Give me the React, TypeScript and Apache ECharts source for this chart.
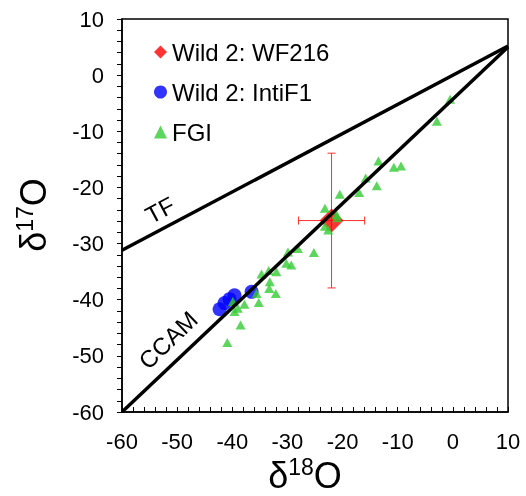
import React, { useEffect, useRef } from "react";
import * as echarts from "echarts";

const xTicks = { min: -60, max: 10, interval: 10 };
const yTicks = { min: -60, max: 10, interval: 10 };

// Wild 2: WF216 (x, y, xErr, yErr)
const wf216 = [[-22, -25.9]];
const wf216Err = [[-22, -25.9, 6, 12]];

// Wild 2: IntiF1
const intiF1 = [
  [-42.3, -41.7],
  [-41.4, -40.6],
  [-40.5, -39.9],
  [-39.6, -39.2],
  [-36.5, -38.6],
];

// FGI
const fgi = [
  [-0.5, -4.3],
  [-2.9, -8.2],
  [-9.4, -16.2],
  [-10.7, -16.4],
  [-13.5, -15.3],
  [-13.8, -19.7],
  [-15.8, -18.3],
  [-17.0, -20.9],
  [-20.5, -21.2],
  [-23.2, -23.7],
  [-21.1, -24.8],
  [-21.0, -25.4],
  [-23.2, -26.9],
  [-22.6, -27.6],
  [-25.2, -31.6],
  [-28.1, -30.9],
  [-29.9, -31.5],
  [-30.2, -33.5],
  [-29.3, -33.8],
  [-32.0, -35.0],
  [-33.4, -34.8],
  [-34.7, -35.4],
  [-33.2, -36.8],
  [-33.3, -38.0],
  [-32.1, -38.9],
  [-35.6, -38.9],
  [-35.2, -40.5],
  [-37.8, -40.8],
  [-39.0, -41.5],
  [-39.9, -40.3],
  [-39.6, -42.1],
  [-38.5, -44.5],
  [-40.9, -47.6],
];

// Reference lines
const tfLine = [[-60, -31.2], [10, 5.2]];
const ccamLine = [[-60, -60], [10, 5]];

const legendNames = ["Wild 2: WF216", "Wild 2: IntiF1", "FGI"];
const FONT = "'Liberation Sans', Arial, sans-serif";

export default function App() {
  const ref = useRef<HTMLDivElement>(null);
  useEffect(() => {
    if (!ref.current) return;
    const chart = echarts.init(ref.current, undefined, { renderer: "svg" });
    const axisCommon = {
      type: "value",
      splitLine: { show: false },
      axisLine: { show: true, onZero: false, lineStyle: { color: "#000", width: 1.5 } },
      axisLabel: { color: "#000", fontSize: 22, fontFamily: FONT },
      minorTick: { show: true, splitNumber: 5, length: 5, lineStyle: { color: "#000", width: 1 } },
      axisTick: { show: true, length: 5, lineStyle: { color: "#000", width: 1 } },
    };
    chart.setOption({
      animation: false,
      textStyle: { fontFamily: FONT },
      grid: {
        left: 122,
        right: 18,
        top: 19,
        bottom: 84,
        show: true,
        borderColor: "#000",
        borderWidth: 1.5,
        backgroundColor: "transparent",
      },
      xAxis: {
        ...axisCommon,
        min: xTicks.min,
        max: xTicks.max,
        interval: xTicks.interval,
        axisTick: { ...axisCommon.axisTick, inside: true },
        minorTick: { ...axisCommon.minorTick },
        axisLabel: { ...axisCommon.axisLabel, margin: 18 },
      },
      yAxis: {
        ...axisCommon,
        min: yTicks.min,
        max: yTicks.max,
        interval: yTicks.interval,
        axisTick: { ...axisCommon.axisTick, inside: false },
        axisLabel: { ...axisCommon.axisLabel, margin: 18 },
      },
      legend: {
        orient: "vertical",
        left: 149,
        top: 34,
        itemWidth: 13,
        itemHeight: 13,
        itemGap: 14,
        textStyle: { fontSize: 24, color: "#000", lineHeight: 26, fontFamily: FONT },
        data: [
          { name: legendNames[0], icon: "diamond" },
          { name: legendNames[1], icon: "circle" },
          { name: legendNames[2], icon: "triangle" },
        ],
      },
      graphic: [
        {
          type: "text",
          x: 305,
          y: 475,
          style: {
            text: "{a|δ}{s|18}{a|O}",
            align: "center",
            verticalAlign: "middle",
            fill: "#000",
            rich: {
              a: { fontSize: 36, lineHeight: 40, fontFamily: FONT, fill: "#000" },
              s: { fontSize: 23, lineHeight: 40, verticalAlign: "top", fontFamily: FONT, fill: "#000" },
            },
          },
        },
        {
          type: "text",
          x: 33,
          y: 215,
          rotation: Math.PI / 2,
          style: {
            text: "{a|δ}{s|17}{a|O}",
            align: "center",
            verticalAlign: "middle",
            fill: "#000",
            rich: {
              a: { fontSize: 36, lineHeight: 40, fontFamily: FONT, fill: "#000" },
              s: { fontSize: 23, lineHeight: 40, verticalAlign: "top", fontFamily: FONT, fill: "#000" },
            },
          },
        },
        {
          type: "text",
          x: 160,
          y: 210,
          rotation: (28 * Math.PI) / 180,
          style: { text: "TF", fontSize: 24, fontFamily: FONT, fill: "#000", align: "center", verticalAlign: "middle" },
        },
        {
          type: "text",
          x: 168,
          y: 340,
          rotation: (44 * Math.PI) / 180,
          style: { text: "CCAM", fontSize: 24, fontFamily: FONT, fill: "#000", align: "center", verticalAlign: "middle" },
        },
      ],
      series: [
        {
          name: "WF216 error",
          type: "custom",
          z: 2,
          data: wf216Err,
          renderItem: (params: any, api: any) => {
            const x = api.value(0);
            const y = api.value(1);
            const ex = api.value(2);
            const ey = api.value(3);
            const l = api.coord([x - ex, y]);
            const r = api.coord([x + ex, y]);
            const t = api.coord([x, y + ey]);
            const b = api.coord([x, y - ey]);
            const cap = 4;
            const style = { stroke: "#ff3030", lineWidth: 1 };
            return {
              type: "group",
              children: [
                { type: "line", shape: { x1: l[0], y1: l[1], x2: r[0], y2: r[1] }, style },
                { type: "line", shape: { x1: l[0], y1: l[1] - cap, x2: l[0], y2: l[1] + cap }, style },
                { type: "line", shape: { x1: r[0], y1: r[1] - cap, x2: r[0], y2: r[1] + cap }, style },
                { type: "line", shape: { x1: t[0], y1: t[1], x2: b[0], y2: b[1] }, style },
                { type: "line", shape: { x1: t[0] - cap, y1: t[1], x2: t[0] + cap, y2: t[1] }, style },
                { type: "line", shape: { x1: b[0] - cap, y1: b[1], x2: b[0] + cap, y2: b[1] }, style },
              ],
            };
          },
        },
        {
          name: legendNames[0],
          type: "scatter",
          z: 3,
          symbol: "diamond",
          symbolSize: 24,
          itemStyle: { color: "#ff0000" },
          data: wf216,
        },
        {
          name: legendNames[1],
          type: "scatter",
          z: 4,
          symbol: "circle",
          symbolSize: 14,
          itemStyle: { color: "#0000ff" },
          data: intiF1,
        },
        {
          name: legendNames[2],
          type: "scatter",
          z: 5,
          symbol: "triangle",
          symbolSize: [10, 9],
          itemStyle: { color: "#33cc33" },
          data: fgi,
        },
        {
          name: "TF",
          type: "line",
          z: 6,
          symbol: "none",
          lineStyle: { color: "#000", width: 3.5 },
          data: tfLine,
        },
        {
          name: "CCAM",
          type: "line",
          z: 6,
          symbol: "none",
          lineStyle: { color: "#000", width: 3.5 },
          data: ccamLine,
        },
      ],
    });
    return () => chart.dispose();
  }, []);
  return <div ref={ref} style={{ position: "fixed", left: 0, top: 0, width: 526, height: 496 }} />;
}
